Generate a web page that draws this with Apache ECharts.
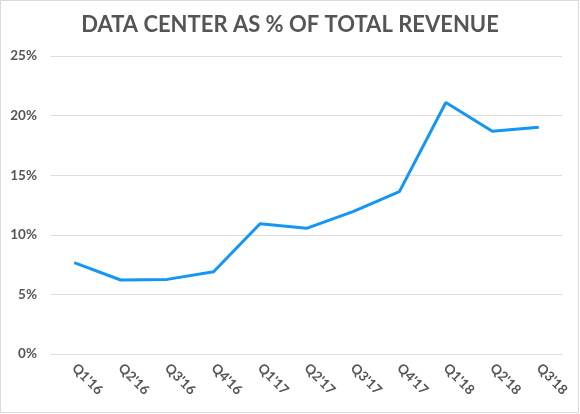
<!DOCTYPE html>
<html>
<head>
<meta charset="utf-8">
<script src="https://cdn.jsdelivr.net/npm/echarts@6/dist/echarts.min.js"></script>
<style>
html,body{margin:0;padding:0;background:#fff;}
#wrap{position:absolute;left:0;top:0;width:579px;height:413px;box-sizing:border-box;border:1px solid #dadada;}
#chart{position:absolute;left:0;top:0;width:580px;height:414px;}
</style>
</head>
<body>
<div id="chart"></div>
<div id="wrap"></div>
<script>
const categories = ["Q1'16","Q2'16","Q3'16","Q4'16","Q1'17","Q2'17","Q3'17","Q4'17","Q1'18","Q2'18","Q3'18"];
const dataCenterShare = [7.66, 6.21, 6.26, 6.9, 10.93, 10.54, 11.94, 13.62, 21.1, 18.68, 19.02];
const yTicks = [0, 5, 10, 15, 20, 25];

const chart = echarts.init(document.getElementById('chart'), null, {renderer: 'canvas'});
chart.setOption({
  backgroundColor: '#ffffff',
  animation: false,
  title: {
    text: 'DATA CENTER AS % OF TOTAL REVENUE',
    left: 'center',
    top: 9,
    textStyle: {fontFamily: 'Lato', fontWeight: 'bold', fontSize: 22, color: '#555555'}
  },
  grid: {left: 51, right: 18, top: 56, bottom: 60, containLabel: false},
  xAxis: {
    type: 'category',
    data: categories,
    boundaryGap: true,
    axisLine: {show: false},
    axisTick: {show: false},
    axisLabel: {rotate: -45, margin: 12, fontFamily: 'Lato', fontWeight: 'bold', fontSize: 13.5, color: '#555555'}
  },
  yAxis: {
    type: 'value',
    min: yTicks[0],
    max: yTicks[yTicks.length - 1],
    interval: 5,
    axisLine: {show: false},
    axisTick: {show: false},
    splitLine: {lineStyle: {color: '#dcdcdc', width: 1}},
    axisLabel: {margin: 14, fontFamily: 'Lato', fontWeight: 'bold', fontSize: 13.5, color: '#555555', formatter: '{value}%'}
  },
  series: [{
    type: 'line',
    data: dataCenterShare,
    showSymbol: false,
    symbol: 'none',
    lineStyle: {color: '#1396f5', width: 3},
    itemStyle: {color: '#1396f5'}
  }]
});
</script>
</body>
</html>
